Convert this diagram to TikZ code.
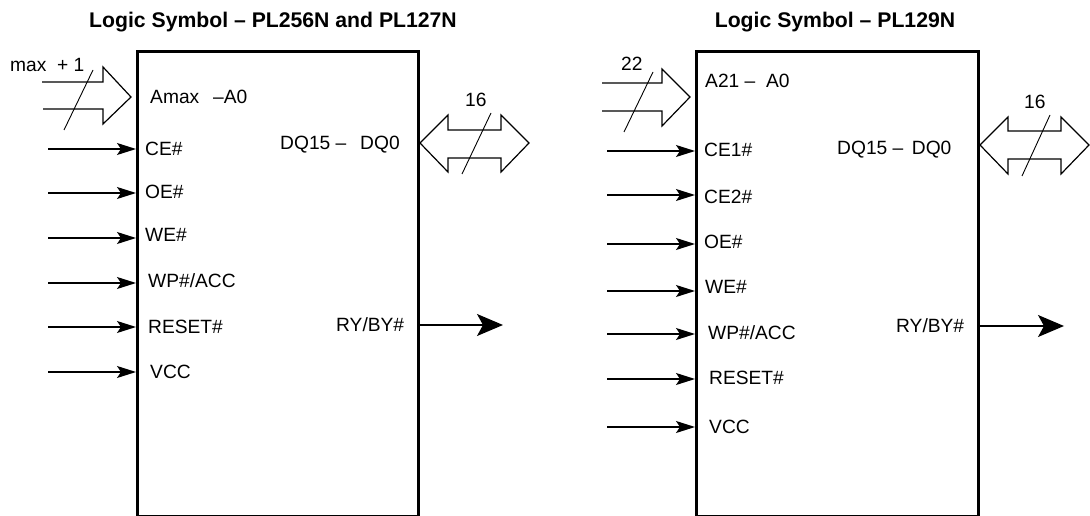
\documentclass[tikz,border=0pt]{standalone}
\usepackage{fontspec}
\setmainfont{Liberation Sans}
\usetikzlibrary{arrows.meta}

\begin{document}
\begin{tikzpicture}[x=1pt,y=-1pt,auto]
\tikzstyle{chip} = [rectangle, draw, line width=3pt, anchor=north west, inner sep=0pt]
\tikzstyle{title} = [font=\fontsize{21.2}{24}\selectfont\bfseries, inner sep=0pt]
\tikzstyle{pin} = [font=\fontsize{19.2}{23}\selectfont, anchor=west, inner sep=0pt]
\tikzstyle{line} = [draw, line width=1.3pt, -{Stealth[length=19pt,width=12pt,inset=4pt]}]
\tikzstyle{outline} = [draw, line width=1.3pt, -{Stealth[length=26pt,width=22pt,inset=6pt]}]
\tikzstyle{bus} = [draw, line width=1.2pt, line join=miter]
\tikzstyle{slash} = [draw, line width=0.9pt]
\useasboundingbox (0,0) rectangle (1090,516);

% left symbol
\node [title] (titlea) at (273,22) {Logic Symbol – PL256N and PL127N};
\node [chip, minimum width=281pt, minimum height=465pt] (chipa) at (136,50) {};
\node [pin] (maxa) at (10,65) {max \;+\;1};
\node [pin] (addra) at (150,97) {Amax \;\,–A0};
\node [pin] (dqa) at (280,145) {DQ15 –\;\, DQ0};
\node [pin] (rya) at (336,325) {RY/BY\#};
\node [pin] (widtha) at (465,100) {16};
\foreach \name/\x/\y/\px/\ly in {CE\#/48/149/145/149, OE\#/48/193/145/192, WE\#/48/238/145/235,
  WP\#\slash ACC/48/283/148/281, RESET\#/48/327/148/327, VCC/48/372/150/372}
{
  \node [pin] at (\px,\ly) {\name};
  \coordinate (in) at (\x,\y);
  \path [line] (in) -- (in -| chipa.west);
}
\coordinate (outa) at (503,325);
\path [outline] (chipa.east |- outa) -- (outa);
\path [bus] (42,82) -- (103,82) -- (103,67) -- (131,97) -- (103,124) -- (103,109) -- (43,109);
\path [slash] (93,70) -- (64,130);
\path [bus] (420,143) -- (448,115) -- (448,130) -- (501,130) -- (501,115) -- (529,143)
  -- (501,172) -- (501,158) -- (448,158) -- (448,172) -- cycle;
\path [slash] (491,113) -- (462,174);

% right symbol
\node [title] (titleb) at (835,22) {Logic Symbol – PL129N};
\node [chip, minimum width=282pt, minimum height=465pt] (chipb) at (695,50) {};
\node [pin] (widthc) at (621,64) {22};
\node [pin] (addrb) at (705,81) {A21 –\; A0};
\node [pin] (dqb) at (837,150) {DQ15 –\, DQ0};
\node [pin] (ryb) at (896,326) {RY/BY\#};
\node [pin] (widthb) at (1024,102) {16};
\foreach \name/\x/\y/\px/\ly in {CE1\#/607/151/704/150, CE2\#/607/195/704/197, OE\#/607/244/704/242,
  WE\#/607/291/705/287, WP\#\slash ACC/607/334/708/333, RESET\#/607/379/709/378, VCC/607/427/709/427}
{
  \node [pin] at (\px,\ly) {\name};
  \coordinate (in) at (\x,\y);
  \path [line] (in) -- (in -| chipb.west);
}
\coordinate (outb) at (1064,326);
\path [outline] (chipb.east |- outb) -- (outb);
\path [bus] (602,83) -- (662,83) -- (662,69) -- (690,97) -- (662,126) -- (662,111) -- (602,111);
\path [slash] (653,72) -- (624,132);
\path [bus] (980,145) -- (1008,117) -- (1008,131) -- (1061,131) -- (1061,117) -- (1089,145)
  -- (1061,174) -- (1061,159) -- (1008,159) -- (1008,174) -- cycle;
\path [slash] (1050,115) -- (1022,176);
\end{tikzpicture}
\end{document}
